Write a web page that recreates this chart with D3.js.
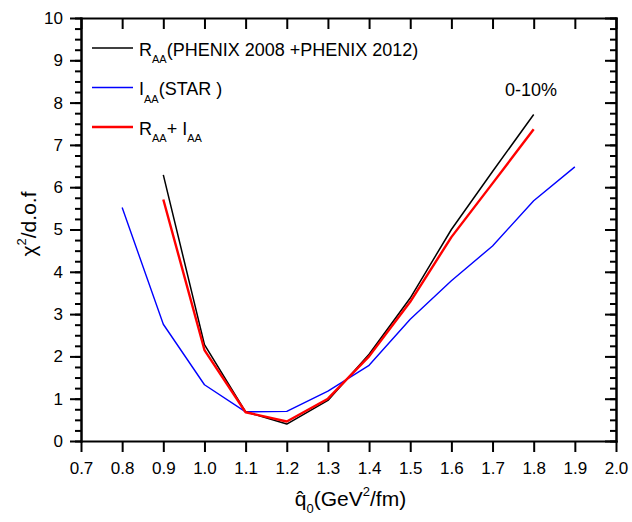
<!DOCTYPE html>
<html lang="en">
<head>
    <meta charset="UTF-8">
    <title>chi2 vs qhat0</title>
    <script src="https://d3js.org/d3.v7.min.js"></script>
    <style>
        body { margin: 0; background: #fff; font-family: Arial, "Liberation Sans", sans-serif; }
        .axis path, .axis line { stroke: #000; stroke-width: 2px; }
        .axis text { font-size: 17px; fill: #000; font-family: Arial, "Liberation Sans", sans-serif; }
        .curve { fill: none; stroke-linejoin: round; }
    </style>
</head>
<body>
    <div id="chart"></div>
    <script>
        // values
        const qhat = [0.8, 0.9, 1.0, 1.1, 1.2, 1.3, 1.4, 1.5, 1.6, 1.7, 1.8, 1.9];
        const raaChi2 = [null, 6.29, 2.28, 0.69, 0.40, 0.96, 2.05, 3.38, 5.00, 6.37, 7.72, null];
        const iaaChi2 = [5.52, 2.76, 1.33, 0.69, 0.70, 1.18, 1.79, 2.88, 3.79, 4.61, 5.68, 6.48];
        const bothChi2 = [null, 5.71, 2.15, 0.68, 0.46, 1.00, 2.00, 3.29, 4.82, 6.09, 7.37, null];
        const xTicks = d3.range(0.7, 2.001, 0.1);
        const yTicks = d3.range(0, 11, 1);
        const yMinorTicks = d3.range(0, 10.001, 0.25);

        const W = 632, H = 522;
        const margin = {top: 18, right: 16, bottom: 81, left: 81};
        const width = W - margin.left - margin.right,
              height = H - margin.top - margin.bottom;

        const svg = d3.select("#chart").append("svg")
            .attr("width", W).attr("height", H);
        const g = svg.append("g").attr("transform", `translate(${margin.left},${margin.top})`);

        const x = d3.scaleLinear().domain([0.7, 2.0]).range([0, width]);
        const y = d3.scaleLinear().domain([0, 10]).range([height, 0]);

        // bottom axis (ticks outward)
        g.append("g").attr("class", "axis")
            .attr("transform", `translate(0,${height})`)
            .call(d3.axisBottom(x).tickValues(xTicks).tickSize(11).tickSizeOuter(0)
                .tickPadding(10).tickFormat(d3.format(".1f")));
        // top axis (ticks inward)
        g.append("g").attr("class", "axis")
            .call(d3.axisBottom(x).tickValues(xTicks).tickSize(11).tickSizeOuter(0).tickFormat(""));
        // left axis: minor then major
        g.append("g").attr("class", "axis")
            .call(d3.axisLeft(y).tickValues(yMinorTicks).tickSize(6).tickSizeOuter(0).tickFormat(""));
        g.append("g").attr("class", "axis")
            .call(d3.axisLeft(y).tickValues(yTicks).tickSize(11).tickSizeOuter(0).tickPadding(7).tickFormat(d3.format("d")));
        // right axis (ticks inward)
        g.append("g").attr("class", "axis")
            .attr("transform", `translate(${width},0)`)
            .call(d3.axisLeft(y).tickValues(yMinorTicks).tickSize(6).tickSizeOuter(0).tickFormat(""));
        g.append("g").attr("class", "axis")
            .attr("transform", `translate(${width},0)`)
            .call(d3.axisLeft(y).tickValues(yTicks).tickSize(11).tickSizeOuter(0).tickFormat(""));
        g.selectAll(".axis .domain").attr("stroke-linecap", "square");

        const line = d3.line()
            .defined(d => d[1] != null)
            .x(d => x(d[0]))
            .y(d => y(d[1]));

        const series = [
            {vals: iaaChi2, color: "#0000ff", w: 1.4},
            {vals: raaChi2, color: "#000000", w: 1.5},
            {vals: bothChi2, color: "#ff0000", w: 2.4}
        ];
        series.forEach(s => {
            g.append("path")
                .datum(qhat.map((q, i) => [q, s.vals[i]]))
                .attr("class", "curve")
                .attr("stroke", s.color)
                .attr("stroke-width", s.w)
                .attr("d", line);
        });

        // legend
        const legend = [
            {color: "#000000", w: 1.5, parts: [["R", 0], ["AA", 1], ["(PHENIX 2008 +PHENIX 2012)", 0]]},
            {color: "#0000ff", w: 1.4, parts: [["I", 0], ["AA", 1], ["(STAR )", 0]]},
            {color: "#ff0000", w: 2.4, parts: [["R", 0], ["AA", 1], ["+ I", 0], ["AA", 1]]}
        ];
        legend.forEach((l, i) => {
            const ly = 30 + i * 39.5;
            g.append("line")
                .attr("x1", 11).attr("x2", 52)
                .attr("y1", ly).attr("y2", ly)
                .attr("stroke", l.color).attr("stroke-width", l.w);
            const t = g.append("text")
                .attr("x", 58).attr("y", ly + 7.5)
                .attr("font-size", 18);
            let sub = false;
            l.parts.forEach(([txt, s]) => {
                const sp = t.append("tspan").text(txt);
                if (s && !sub) { sp.attr("dy", 7.5).attr("font-size", 11); sub = true; }
                else if (!s && sub) { sp.attr("dy", -7.5); sub = false; }
                else if (s) { sp.attr("font-size", 11); }
            });
        });

        g.append("text")
            .attr("x", 424).attr("y", 78)
            .attr("font-size", 18)
            .text("0-10%");

        // y axis title
        const yt = svg.append("text")
            .attr("transform", `translate(36,224) rotate(-90)`)
            .attr("text-anchor", "middle")
            .attr("font-size", 21);
        yt.append("tspan").text("χ");
        yt.append("tspan").text("2").attr("font-size", 13).attr("dy", -10);
        yt.append("tspan").text("/d.o.f").attr("dy", 10);

        // x axis title, hat as combining circumflex
        const xt = svg.append("text")
            .attr("x", margin.left + width / 2 + 2).attr("y", 506)
            .attr("text-anchor", "middle")
            .attr("font-size", 21);
        xt.append("tspan").text("q\u0302");
        xt.append("tspan").text("0").attr("font-size", 13).attr("dy", 7);
        xt.append("tspan").text("(GeV").attr("dy", -7);
        xt.append("tspan").text("2").attr("font-size", 13).attr("dy", -10);
        xt.append("tspan").text("/fm)").attr("dy", 10);
    </script>
</body>
</html>
